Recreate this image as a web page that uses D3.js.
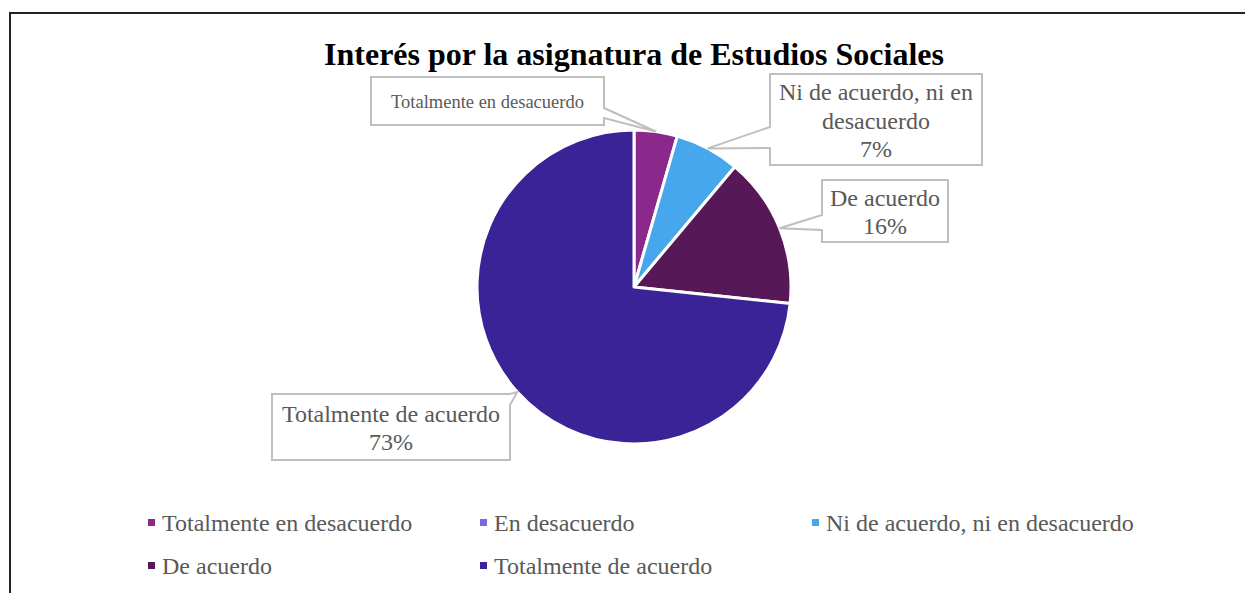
<!DOCTYPE html>
<html lang="es">
<head>
<meta charset="utf-8">
<script src="https://cdn.jsdelivr.net/npm/d3@7"></script>
<style>
    body { margin: 0; background: #fff; }
    svg text { font-family: "Liberation Serif", "Times New Roman", serif; }
</style>
</head>
<body>
<script>
// datos (respuestas por categoría)
const categories = ["Totalmente en desacuerdo", "En desacuerdo", "Ni de acuerdo, ni en desacuerdo", "De acuerdo", "Totalmente de acuerdo"];
const counts = [2, 0, 3, 7, 33];
const colors = ["#8B288B", "#7E68E0", "#47A7EC", "#561856", "#3A2397"];
const title = "Interés por la asignatura de Estudios Sociales";

const w = 1245, h = 593;
const cx = 634, cy = 287, r = 157;

const svg = d3.select("body").append("svg")
    .attr("width", w)
    .attr("height", h);

// marco del gráfico
svg.append("rect")
    .attr("x", 10).attr("y", 13)
    .attr("width", w + 20).attr("height", h + 20)
    .attr("fill", "none")
    .attr("stroke", "#222")
    .attr("stroke-width", 2);

svg.append("text")
    .attr("x", cx).attr("y", 65)
    .attr("text-anchor", "middle")
    .attr("font-size", "32px")
    .attr("font-weight", "bold")
    .attr("fill", "#000")
    .text(title);

const rows = categories.map((c, i) => ({ name: c, value: counts[i], color: colors[i] }));
const total = d3.sum(counts);

const pie = d3.pie().sort(null).value(d => d.value);
const arcs = pie(rows);
const arc = d3.arc().innerRadius(0).outerRadius(r);
const edge = d3.arc().innerRadius(r).outerRadius(r);

const g = svg.append("g").attr("transform", "translate(" + cx + "," + cy + ")");

g.selectAll("path")
    .data(arcs.filter(d => d.data.value > 0))
    .enter()
    .append("path")
    .attr("d", arc)
    .attr("fill", d => d.data.color)
    .attr("stroke", "#fff")
    .attr("stroke-width", 3)
    .attr("stroke-linejoin", "round");

// cajas de etiquetas (callouts)
const callouts = [
    { i: 0, x: 371, y: 77, w: 233, h: 48, side: "right", b0: 31, b1: 41, size: 18.5, lines: d => [d.name] },
    { i: 2, x: 770, y: 74, w: 212, h: 91, side: "left", b0: 53, b1: 74, size: 24, lines: d => ["Ni de acuerdo, ni en", "desacuerdo", d.pct] },
    { i: 3, x: 822, y: 180, w: 126, h: 62, side: "left", b0: 35, b1: 50, size: 24, lines: d => ["De acuerdo", d.pct] },
    { i: 4, x: 272, y: 394, w: 238, h: 66, side: "right", b0: 0, b1: 11, size: 24, lines: d => [d.name, d.pct] }
];

const calloutPath = (c, tip) => {
    let x0 = c.x, y0 = c.y, x1 = c.x + c.w, y1 = c.y + c.h;
    if (c.side === "right") {
        return "M" + x0 + "," + y0 + "H" + x1 + "V" + (y0 + c.b0) +
            "L" + tip[0] + "," + tip[1] + "L" + x1 + "," + (y0 + c.b1) +
            "V" + y1 + "H" + x0 + "Z";
    }
    return "M" + x0 + "," + y0 + "H" + x1 + "V" + y1 + "H" + x0 +
        "V" + (y0 + c.b1) + "L" + tip[0] + "," + tip[1] + "L" + x0 + "," + (y0 + c.b0) + "Z";
};

callouts.forEach((c) => {
    let a = arcs[c.i];
    let p = edge.centroid(a);
    let tip = [cx + p[0], cy + p[1]];
    let d = { name: a.data.name, pct: Math.round(a.data.value / total * 100) + "%" };

    svg.append("path")
        .attr("d", calloutPath(c, tip))
        .attr("fill", "#fff")
        .attr("stroke", "#BFBFBF")
        .attr("stroke-width", 2);

    let lines = c.lines(d);
    let lh = c.size * 1.19;
    let startY = c.y + c.h / 2 - (lines.length - 1) * lh / 2 + c.size * 0.38;
    svg.append("g").selectAll("text")
        .data(lines)
        .enter()
        .append("text")
        .attr("x", c.x + c.w / 2)
        .attr("y", (t, k) => startY + k * lh)
        .attr("text-anchor", "middle")
        .attr("font-size", c.size + "px")
        .attr("fill", "#595959")
        .text(t => t);
});

// leyenda
const legX = [148, 480, 812];
const legY = [523, 566];
const leg = svg.selectAll(".leg")
    .data(rows)
    .enter()
    .append("g")
    .attr("class", "leg")
    .attr("transform", (d, i) => "translate(" + legX[i % 3] + "," + legY[Math.floor(i / 3)] + ")");

leg.append("rect")
    .attr("x", 0).attr("y", -4)
    .attr("width", 7).attr("height", 7)
    .attr("fill", d => d.color);

leg.append("text")
    .attr("x", 14).attr("y", 8)
    .attr("font-size", "24px")
    .attr("fill", "#595959")
    .text(d => d.name);
</script>
</body>
</html>
